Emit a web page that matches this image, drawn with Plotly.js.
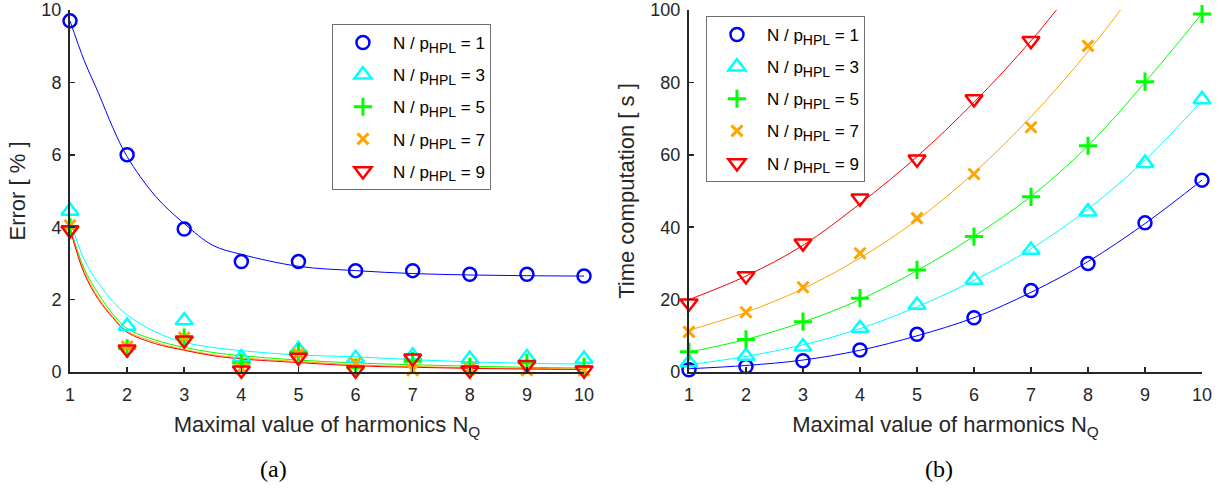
<!DOCTYPE html>
<html>
<head>
<meta charset="utf-8">
<script src="https://cdn.plot.ly/plotly-3.0.1.min.js"></script>
<style>html,body{margin:0;padding:0;background:#fff;}#chart{width:1222px;height:491px;}</style>
</head>
<body>
<div id="chart"></div>
<script>
// ---- data ----
const harmonics = [1, 2, 3, 4, 5, 6, 7, 8, 9, 10];
const ratioLabels = ['1', '3', '5', '7', '9'];
const seriesNames = ratioLabels.map(r => 'N / p<sub><span style="font-size:14px">HPL</span></sub> = ' + r);

// (a) Error [%] measured points
const errRatio1 = [9.7, 6.0, 3.95, 3.05, 3.05, 2.8, 2.8, 2.7, 2.7, 2.65];
const errRatio3 = [4.45, 1.27, 1.42, 0.4, 0.62, 0.38, 0.45, 0.36, 0.4, 0.36];
const errRatio5 = [4.0, 0.65, 0.95, 0.25, 0.55, 0.12, 0.3, 0.15, 0.25, 0.15];
const errRatio7 = [4.05, 0.7, 0.95, 0.1, 0.5, 0.25, 0.05, 0.1, 0.05, 0.05];
const errRatio9 = [3.92, 0.63, 0.88, 0.05, 0.4, 0.05, 0.38, 0.05, 0.2, 0.05];

// (a) fitted curves, read at these abscissae
const errFitX = [1, 1.25, 1.5, 1.75, 2, 2.5, 3, 3.5, 4, 5, 6, 7, 8, 9, 10];
const errFit1 = [9.7, 8.6, 7.7, 6.75, 5.95, 4.85, 4.1, 3.5, 3.25, 2.92, 2.8, 2.72, 2.68, 2.66, 2.65];
const errFit3 = [4.2, 3.1, 2.45, 1.95, 1.58, 1.1, 0.82, 0.68, 0.59, 0.47, 0.42, 0.34, 0.28, 0.24, 0.22];
const errFit5 = [4.0, 2.85, 2.15, 1.6, 1.2, 0.88, 0.68, 0.54, 0.45, 0.33, 0.25, 0.2, 0.16, 0.13, 0.11];
const errFit7 = [3.98, 2.78, 2.05, 1.53, 1.13, 0.82, 0.62, 0.48, 0.39, 0.29, 0.2, 0.15, 0.12, 0.1, 0.08];
const errFit9 = [3.95, 2.72, 2.0, 1.5, 1.1, 0.78, 0.6, 0.45, 0.36, 0.26, 0.17, 0.13, 0.1, 0.08, 0.07];

// (b) Time computation [s] measured points
const timeRatio1 = [0.6, 1.5, 3.1, 6.1, 10.4, 15.0, 22.5, 30.0, 41.2, 53.0];
const timeRatio3 = [2.6, 4.4, 7.0, 12.1, 18.5, 25.4, 33.7, 44.3, 57.7, 75.3];
const timeRatio5 = [5.6, 9.0, 13.9, 20.4, 28.2, 37.4, 48.4, 62.5, 80.2, 98.9];
const timeRatio7 = [11.1, 16.5, 23.4, 32.8, 42.5, 54.7, 67.6, 90.1];
const timeRatio9 = [19.0, 26.5, 35.6, 48.0, 58.8, 75.4, 91.5];

// (b) fitted curves at integer harmonics
const timeFit1 = [0.9, 1.8, 3.3, 6.0, 10.0, 15.0, 22.0, 30.5, 41.0, 53.0];
const timeFit3 = [2.0, 4.3, 7.5, 12.0, 18.0, 25.3, 34.0, 45.0, 58.5, 75.0];
const timeFit5 = [5.5, 9.0, 13.8, 20.0, 28.0, 37.5, 48.5, 62.5, 80.0, 99.0];
const timeFit7 = [11.5, 16.5, 23.0, 31.5, 42.0, 55.0, 70.5, 88.5, 109.0];
const timeFit9 = [20.0, 26.5, 35.0, 46.5, 59.5, 74.5, 91.5, 111.0];

// ---- styles ----
const colors = ['#0000ff', '#00ffff', '#00ff00', '#ffa500', '#ff0000'];
const symbols = ['circle-open', 'triangle-up-open', 'cross-thin-open', 'x-thin-open', 'triangle-down-open'];
const sizes = [13, 15, 13, 11, 15];

const errPts = [errRatio1, errRatio3, errRatio5, errRatio7, errRatio9];
const errFits = [errFit1, errFit3, errFit5, errFit7, errFit9];
const timePts = [timeRatio1, timeRatio3, timeRatio5, timeRatio7, timeRatio9];
const timeFits = [timeFit1, timeFit3, timeFit5, timeFit7, timeFit9];

const traces = [];
// fit lines first (below markers)
for (let i = 0; i < 5; i++) {
  traces.push({x: errFitX, y: errFits[i], xaxis: 'x', yaxis: 'y', mode: 'lines', type: 'scatter',
    line: {color: colors[i], width: 1, shape: 'spline', smoothing: 1}, showlegend: false, hoverinfo: 'skip'});
  traces.push({x: harmonics.slice(0, timeFits[i].length), y: timeFits[i], xaxis: 'x2', yaxis: 'y2', mode: 'lines', type: 'scatter',
    line: {color: colors[i], width: 1, shape: 'spline', smoothing: 1}, showlegend: false, hoverinfo: 'skip'});
}
for (let i = 0; i < 5; i++) {
  const mk = {symbol: symbols[i], size: sizes[i], color: colors[i], line: {color: colors[i], width: (i === 2 || i === 3) ? 3 : 2.5}};
  traces.push({x: harmonics, y: errPts[i], xaxis: 'x', yaxis: 'y', mode: 'markers', type: 'scatter',
    name: seriesNames[i], marker: mk, cliponaxis: false, legend: 'legend', legendgroup: 'a' + i});
  traces.push({x: harmonics.slice(0, timePts[i].length), y: timePts[i], xaxis: 'x2', yaxis: 'y2', mode: 'markers', type: 'scatter',
    name: seriesNames[i], marker: mk, cliponaxis: false, legend: 'legend2', legendgroup: 'b' + i});
}

const FONT = 'Liberation Sans, Arial, sans-serif';
const INK = '#262626';
function xAxis(domain, anchor) {
  return {domain: domain, anchor: anchor, range: [1, 10], tickvals: harmonics, ticks: 'inside', ticklen: 5,
    tickwidth: 1.5, tickcolor: INK, showline: true, linecolor: INK, linewidth: 2, showgrid: false, zeroline: false,
    ticklabelstandoff: 5,
    tickfont: {family: FONT, size: 18, color: INK},
    title: {text: 'Maximal value of harmonics N<sub>Q</sub>', font: {family: FONT, size: 22, color: INK}, standoff: 13}};
}
function yAxis(anchor, range, dtick, title) {
  return {domain: [0, 1], anchor: anchor, range: range, dtick: dtick, ticks: 'inside', ticklen: 5,
    tickwidth: 1.5, tickcolor: INK, showline: true, linecolor: INK, linewidth: 2, showgrid: false, zeroline: false,
    ticklabelstandoff: 3,
    tickfont: {family: FONT, size: 18, color: INK},
    title: {text: title, font: {family: FONT, size: 22, color: INK}, standoff: 10}};
}
const legendCommon = {bgcolor: '#ffffff', bordercolor: '#707070', borderwidth: 1,
  font: {family: FONT, size: 17, color: '#000000'}, itemwidth: 50, tracegroupgap: 7,
  xanchor: 'left', yanchor: 'top', itemclick: false};

const layout = {
  width: 1222, height: 491,
  margin: {l: 70, r: 20, t: 10, b: 119},
  paper_bgcolor: '#ffffff', plot_bgcolor: '#ffffff',
  xaxis: xAxis([0, 0.4541], 'y'),
  yaxis: yAxis('x', [0, 10], 2, 'Error [ % ]'),
  xaxis2: xAxis([0.5468, 1], 'y2'),
  yaxis2: yAxis('x2', [0, 100], 20, 'Time computation [ s ]'),
  legend: Object.assign({x: 0.2314, y: 0.9613}, legendCommon),
  legend2: Object.assign({x: 0.5618, y: 0.9834}, legendCommon),
  annotations: [
    {text: '(a)', xref: 'paper', yref: 'paper', x: 0.1802, y: -0.268, xanchor: 'center', yanchor: 'middle', showarrow: false,
      font: {family: 'Liberation Serif, Times New Roman, serif', size: 24, color: '#000'}},
    {text: '(b)', xref: 'paper', yref: 'paper', x: 0.7677, y: -0.268, xanchor: 'center', yanchor: 'middle', showarrow: false,
      font: {family: 'Liberation Serif, Times New Roman, serif', size: 24, color: '#000'}}
  ],
  showlegend: true
};

Plotly.newPlot('chart', traces, layout, {displayModeBar: false, staticPlot: true});
</script>
</body>
</html>
